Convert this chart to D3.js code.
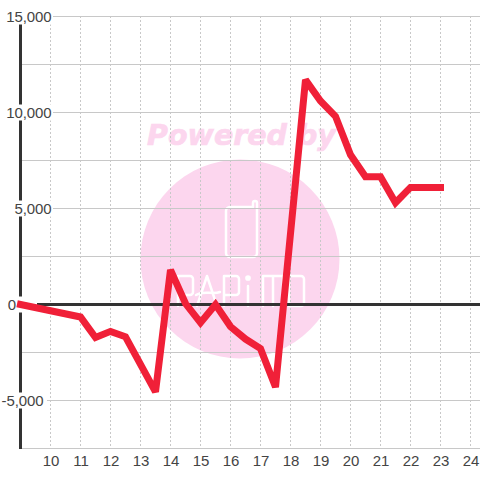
<!DOCTYPE html>
<html><head><meta charset="utf-8">
<script src="https://cdn.jsdelivr.net/npm/d3@7"></script>
<style>html,body{margin:0;padding:0;background:#fff}svg{display:block}</style>
</head><body><svg id="c" width="480" height="480"></svg>
<script>
const xTicks=[10,11,12,13,14,15,16,17,18,19,20,21,22,23,24];
const yLabelled=[15000,10000,5000,0,-5000];
const yGrid=[15000,12500,10000,7500,5000,2500,0,-2500,-5000];
const hours=[9,11,11.5,12,12.5,13.5,14,14.5,15,15.5,16,16.5,17,17.5,18.5,19,19.5,20,20.5,21,21.5,22,23];
const values=[0,-650,-1720,-1400,-1680,-4550,1800,50,-950,0,-1150,-1800,-2300,-4300,11700,10600,9800,7800,6650,6650,5300,6100,6100];
const watermark="Powered by";
const x=d3.scaleLinear().domain([9,24]).range([20.5,470.5]);
const y=d3.scaleLinear().domain([15000,-7500]).range([16.5,448.5]);
const svg=d3.select("#c");
const fmt=d=>d3.format(",")(d).replace("\u2212","-");
// watermark
svg.append("circle").attr("cx",240).attr("cy",259).attr("r",99.5).attr("fill","#fcd6ee");
svg.append("text").attr("x",241.5).attr("y",145).attr("text-anchor","middle")
 .attr("font-family","DejaVu Sans").attr("font-weight","bold").attr("font-style","italic")
 .attr("font-size",28.5).attr("fill","#fcd6ee").attr("stroke","#fcd6ee").attr("stroke-width",0.7).text(watermark);
const logo=svg.append("g").attr("fill","none").attr("stroke","#fff").attr("stroke-width",2.5).attr("stroke-linejoin","round").attr("stroke-linecap","round");
logo.append("path").attr("d","M253 207V203a2 2 0 0 1 4 0V253a4 4 0 0 1-4 4H230a4 4 0 0 1-4-4V211a4 4 0 0 1 4-4H253");
logo.append("path").attr("d","M178 306V276H190a3 3 0 0 1 3 3V292a3 3 0 0 1-3 3H178");
logo.append("path").attr("d","M197 306L207 276L217 306M196 295C204 290 212 295 220 292");
logo.append("path").attr("d","M224 306V276H236a3 3 0 0 1 3 3V292a3 3 0 0 1-3 3H224");
logo.append("path").attr("d","M248 306V286");
logo.append("circle").attr("cx",248).attr("cy",278).attr("r",1.6).attr("fill","#fff");
logo.append("path").attr("d","M263 306V276H283V306M273 276V306");
logo.append("path").attr("d","M289 306V276H301a3 3 0 0 1 3 3V303a3 3 0 0 1-3 3Z");
// grid
svg.append("g").selectAll("line").data(xTicks).join("line")
 .attr("x1",d=>x(d)).attr("x2",d=>x(d)).attr("y1",16).attr("y2",448)
 .attr("stroke","#c8c8c8").attr("stroke-width",1).attr("stroke-dasharray","2 2");
svg.append("g").selectAll("line").data(yGrid.filter(d=>d!==0)).join("line")
 .attr("x1",20).attr("x2",480).attr("y1",d=>y(d)).attr("y2",d=>y(d))
 .attr("stroke","#c8c8c8").attr("stroke-width",1);
svg.append("line").attr("x1",20).attr("x2",480).attr("y1",448.5).attr("y2",448.5).attr("stroke","#c8c8c8");
// axes
svg.append("line").attr("x1",x(9)).attr("x2",x(9)).attr("y1",24).attr("y2",449).attr("stroke","#333").attr("stroke-width",3);
svg.append("line").attr("x1",20).attr("x2",480).attr("y1",y(0)).attr("y2",y(0)).attr("stroke","#333").attr("stroke-width",3);
// y labels
const yl=svg.append("g").selectAll("g").data(yLabelled).join("g");
yl.append("rect").attr("x",0).attr("y",d=>y(d)-8).attr("width",d=>d===0?37:(d<0?47:53)).attr("height",16).attr("fill","#fff");
yl.append("text").attr("x",d=>d===0?16:(d<0?43.5:51.5)).attr("y",d=>y(d)+5).attr("text-anchor","end")
 .attr("font-family","Liberation Sans").attr("font-size",15).attr("letter-spacing",-0.1).attr("fill","#444").text(d=>fmt(d));
// x labels
svg.append("g").selectAll("text").data(xTicks).join("text")
 .attr("x",d=>x(d)+.5).attr("y",466).attr("text-anchor","middle")
 .attr("font-family","Liberation Sans").attr("font-size",15).attr("fill","#444").text(d=>d);
// series
const line=d3.line().x((d,i)=>x(hours[i])).y(d=>y(d));
svg.append("path").datum(values).attr("d",line).attr("fill","none").attr("stroke","#f02038")
 .attr("stroke-width",7).attr("stroke-linecap","square").attr("stroke-linejoin","miter").attr("stroke-miterlimit",2.5);
</script></body></html>
